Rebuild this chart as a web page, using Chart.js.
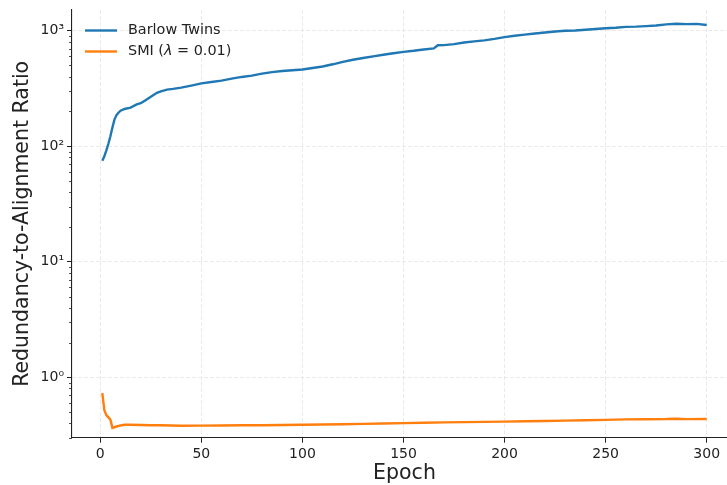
<!DOCTYPE html>
<html lang="en">
<head>
    <meta charset="UTF-8" />
    <title>Redundancy-to-Alignment Ratio</title>
    <script src="https://cdn.jsdelivr.net/npm/chart.js"></script>
    <style>
        html, body {
            margin: 0;
            padding: 0;
            background: white;
            overflow: hidden;
        }
        #chart {
            position: absolute;
            left: 0;
            top: 0;
        }
    </style>
</head>
<body>
<canvas id="chart" width="737" height="485"></canvas>

<script>
// data
const barlowEpochs = [1, 2, 3, 4, 5, 6, 7, 8, 9, 10, 12, 15, 18, 20, 22, 25, 28, 30, 33, 36, 40, 45,
    50, 55, 60, 65, 70, 75, 80, 85, 90, 95, 100, 105, 110, 115, 120, 125, 130, 135, 140, 145,
    150, 155, 160, 165, 167, 170, 175, 180, 185, 190, 195, 200, 205, 210, 215, 220, 225, 230,
    235, 240, 245, 250, 255, 260, 265, 270, 275, 280, 285, 290, 295, 300];
const barlowValues = [75, 82, 92, 105, 122, 145, 170, 186, 195, 203, 210, 216, 230, 236, 248, 268, 290, 298, 309, 314, 322, 335,
    350, 360, 370, 385, 398, 408, 425, 438, 448, 455, 462, 475, 490, 512, 538, 560, 580, 600, 620, 638,
    656, 670, 688, 702, 748, 750, 765, 790, 808, 825, 850, 880, 905, 925, 945, 965, 985, 1000,
    1005, 1020, 1035, 1050, 1060, 1080, 1085, 1095, 1110, 1135, 1150, 1140, 1145, 1120];

const smiEpochs = [1, 2, 3, 4, 5, 6, 8, 10, 12, 15, 20, 25, 30, 40, 50, 60, 70, 80, 90, 100,
    110, 120, 130, 140, 150, 160, 170, 180, 190, 200, 210, 220, 230, 240, 250, 260, 270, 280, 285, 290, 300];
const smiValues = [0.73, 0.52, 0.47, 0.45, 0.43, 0.365, 0.375, 0.383, 0.388, 0.388, 0.386, 0.385, 0.384, 0.381, 0.382, 0.383, 0.384, 0.384, 0.386, 0.388,
    0.390, 0.392, 0.395, 0.398, 0.401, 0.404, 0.407, 0.409, 0.411, 0.413, 0.416, 0.419, 0.422, 0.425, 0.428, 0.432, 0.433, 0.435, 0.438, 0.434, 0.435];

const xTicks = [0, 50, 100, 150, 200, 250, 300];
const yTicks = [1, 10, 100, 1000];
const yTickLabels = ['10\u2070', '10\u00B9', '10\u00B2', '10\u00B3'];

const axisColor = '#222';
const gridColor = '#e4e4e4';
const fontFamily = '"DejaVu Sans", sans-serif';

// minor ticks on the log axis, like matplotlib
const minorTicks = {
    id: 'minorTicks',
    afterDraw(chart) {
        const y = chart.scales.y;
        const ctx = chart.ctx;
        ctx.save();
        ctx.strokeStyle = axisColor;
        ctx.lineWidth = 0.8;
        for (let p = -1; p <= 3; p++) {
            for (let m = 2; m <= 9; m++) {
                const v = m * Math.pow(10, p);
                if (v < y.min || v > y.max) continue;
                const py = Math.round(y.getPixelForValue(v)) + 0.5;
                ctx.beginPath();
                ctx.moveTo(y.right - 3, py);
                ctx.lineTo(y.right, py);
                ctx.stroke();
            }
        }
        ctx.restore();
    }
};

// legend inside the plot, no frame
const innerLegend = {
    id: 'innerLegend',
    afterDraw(chart) {
        const ctx = chart.ctx;
        ctx.save();
        ctx.font = '14.4px ' + fontFamily;
        ctx.textBaseline = 'middle';
        ctx.fillStyle = axisColor;
        const rows = [30.5, 51.5];
        chart.data.datasets.forEach((ds, i) => {
            const ly = rows[i];
            ctx.strokeStyle = ds.borderColor;
            ctx.lineWidth = ds.borderWidth;
            ctx.beginPath();
            ctx.moveTo(85, ly);
            ctx.lineTo(117, ly);
            ctx.stroke();
            let tx = 128;
            ds.legendParts.forEach(part => {
                ctx.font = (part.italic ? 'italic ' : '') + '14.4px ' + fontFamily;
                ctx.fillText(part.text, tx, ly);
                tx += ctx.measureText(part.text).width;
            });
        });
        ctx.restore();
    }
};

const ctx = document.getElementById('chart').getContext('2d');
new Chart(ctx, {
    type: 'line',
    data: {
        datasets: [
            {
                label: 'Barlow Twins',
                legendParts: [{ text: 'Barlow Twins' }],
                data: barlowEpochs.map((e, i) => ({ x: e, y: barlowValues[i] })),
                borderColor: '#1f77b4',
                borderWidth: 2.4,
                pointRadius: 0,
                tension: 0,
                fill: false
            },
            {
                label: 'SMI (\u03BB = 0.01)',
                legendParts: [{ text: 'SMI (' }, { text: '\u03BB', italic: true }, { text: ' = 0.01)' }],
                data: smiEpochs.map((e, i) => ({ x: e, y: smiValues[i] })),
                borderColor: '#ff7f0e',
                borderWidth: 2.4,
                pointRadius: 0,
                tension: 0,
                fill: false
            }
        ]
    },
    options: {
        responsive: false,
        animation: false,
        layout: { padding: { top: 10, left: 0, right: 0, bottom: 0 } },
        plugins: {
            legend: { display: false },
            tooltip: { enabled: false }
        },
        scales: {
            x: {
                type: 'linear',
                min: -14,
                max: 315,
                afterBuildTicks: s => { s.ticks = xTicks.map(v => ({ value: v })); },
                afterFit: s => {
                    s.height = 47.3;
                    s.paddingLeft = 0; s.paddingRight = 0;
                },
                ticks: {
                    color: axisColor,
                    font: { family: fontFamily, size: 14 },
                    padding: 3,
                    maxRotation: 0
                },
                grid: {
                    color: gridColor,
                    lineWidth: 0.8,
                    tickColor: axisColor,
                    tickLength: 5,
                    tickWidth: 1
                },
                border: { color: axisColor, width: 1.1, dash: [4, 2] },
                title: {
                    display: true,
                    text: 'Epoch',
                    color: axisColor,
                    font: { family: fontFamily, size: 20.5, lineHeight: 1 },
                    padding: { top: 0, bottom: 1 }
                }
            },
            y: {
                type: 'logarithmic',
                min: 0.30,
                max: 1511,
                afterBuildTicks: s => { s.ticks = yTicks.map(v => ({ value: v })); },
                afterFit: s => {
                    s.width = 72;
                    s.paddingTop = 0; s.paddingBottom = 0;
                },
                ticks: {
                    color: axisColor,
                    font: { family: fontFamily, size: 14 },
                    padding: 3,
                    callback: v => {
                        const i = yTicks.indexOf(v);
                        return i >= 0 ? yTickLabels[i] : '';
                    }
                },
                grid: {
                    color: gridColor,
                    lineWidth: 0.8,
                    tickColor: axisColor,
                    tickLength: 5,
                    tickWidth: 1
                },
                border: { color: axisColor, width: 1.1, dash: [4, 2] },
                title: {
                    display: true,
                    text: 'Redundancy-to-Alignment Ratio',
                    color: axisColor,
                    font: { family: fontFamily, size: 20.5, lineHeight: 1 },
                    padding: { top: 12, bottom: 0 }
                }
            }
        }
    },
    plugins: [minorTicks, innerLegend]
});
</script>

</body>
</html>
